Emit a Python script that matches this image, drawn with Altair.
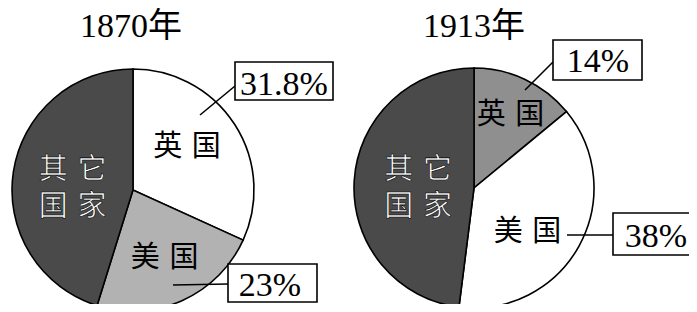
import altair as alt
import pandas as pd

# ---- data ----
years = ["1870年", "1913年"]
countries = ["英国", "美国", "其它国家"]
labels = ["英\u2004国", "美\u2004国", "其\u2004它\n国\u2004家"]
shares_1870 = [31.8, 23, 45.2]
shares_1913 = [14, 38, 48]

rows = []
for year, shares in zip(years, [shares_1870, shares_1913]):
    for i, (c, lab, v) in enumerate(zip(countries, labels, shares)):
        rows.append({"year": year, "country": c, "label": lab, "value": v,
                     "idx": i, "key": f"{year}-{c}"})
df = pd.DataFrame(rows)
title_df = pd.DataFrame({"year": years})

# ---- styles / layout (not data) ----
key_domain = [f"{y}-{c}" for y in years for c in countries]
key_range = ["#ffffff", "#b2b2b2", "#4a4a4a", "#8f8f8f", "#ffffff", "#4a4a4a"]
centers = {"1870年": (125, 182, 121), "1913年": (466, 180, 120)}
serif = "Liberation Serif, Times New Roman, Noto Sans CJK SC, serif"
cjk = "Liberation Sans, Noto Sans CJK SC"
line_gap = 37

theta_scale = alt.Scale(domain=[0, 100], range=[0, 6.283185307])

base = alt.Chart(df).transform_window(
    cum="sum(value)", sort=[{"field": "idx"}], groupby=["year"],
    frame=[None, 0]
).transform_calculate(
    start="datum.cum - datum.value",
    mid="datum.cum - datum.value / 2",
    pct="datum.value + '%'",
    line1="split(datum.label, '\\n')[0]",
    line2="length(split(datum.label, '\\n')) > 1 ? split(datum.label, '\\n')[1] : ''",
)

layers = []

# pies
for year in years:
    cx, cy, r = centers[year]
    layers.append(
        base.transform_filter(alt.datum.year == year).mark_arc(
            radius=r, stroke="#000000", strokeWidth=1.6
        ).encode(
            x=alt.value(cx), y=alt.value(cy),
            theta=alt.Theta("start:Q", scale=theta_scale, stack=False),
            theta2="cum:Q",
            color=alt.Color("key:N", scale=alt.Scale(domain=key_domain, range=key_range), legend=None),
            order=alt.Order("idx:Q"),
        )
    )

# slice labels: (radius, dx, dy, fill, stroke)
label_style = {
    "1870年-英国": (69, -4, -6, "#000000", None),
    "1870年-美国": (75, 1, 0, "#000000", None),
    "1870年-其它国家": (61, 0, -11, "#ffffff", "#000000"),
    "1913年-英国": (81, 2, 0, "#000000", None),
    "1913年-美国": (69, -7, 11, "#000000", None),
    "1913年-其它国家": (56, 0, -14, "#ffffff", "#000000"),
}
for key, (rad, dx, dy, fill, stroke) in label_style.items():
    year = key.split("-")[0]
    cx, cy, _ = centers[year]
    for li, field in enumerate(["line1", "line2"]):
        mk = dict(radius=rad, dx=dx, dy=dy + li * line_gap, font=cjk, fontSize=29,
                  color=fill, align="center", baseline="middle")
        if stroke:
            mk.update(stroke=stroke, strokeWidth=0.6)
        layers.append(
            base.transform_filter(alt.datum.key == key)
            .transform_filter(f"datum.{field} != ''")
            .mark_text(**mk).encode(
                x=alt.value(cx), y=alt.value(cy),
                theta=alt.Theta("mid:Q", scale=theta_scale, stack=False),
                text=f"{field}:N",
            )
        )

# callout boxes: key -> (box x, x2, y, y2, text x, text baseline y, leader x, y, x2, y2)
callouts = {
    "1870年-英国": (227, 325, 54, 92, 276, 87, 192, 107, 227, 78),
    "1870年-美国": (220, 309, 256, 294, 262, 288, 165, 277, 220, 276),
    "1913年-英国": (545, 634, 32, 72, 590, 64, 517, 82, 545, 54),
    "1913年-美国": (605, 694, 205, 247, 648, 239, 559, 227, 605, 227),
}
for key, (bx, bx2, by, by2, tx, ty, lx, ly, lx2, ly2) in callouts.items():
    sub = base.transform_filter(alt.datum.key == key)
    layers.append(
        sub.mark_rule(color="#000000", strokeWidth=1.6).encode(
            x=alt.value(lx), y=alt.value(ly), x2=alt.value(lx2), y2=alt.value(ly2)
        )
    )
    layers.append(
        sub.mark_rect(fill="#ffffff", stroke="#000000", strokeWidth=1.6).encode(
            x=alt.value(bx), x2=alt.value(bx2), y=alt.value(by), y2=alt.value(by2)
        )
    )
    layers.append(
        sub.mark_text(font=serif, fontSize=34, color="#000000",
                      align="center", baseline="alphabetic").encode(
            x=alt.value(tx), y=alt.value(ty), text="pct:N"
        )
    )

# titles
title_x = {"1870年": 123, "1913年": 466}
for year in years:
    layers.append(
        alt.Chart(title_df).transform_filter(alt.datum.year == year).mark_text(
            font=serif, fontSize=34, color="#000000", align="center", baseline="alphabetic"
        ).encode(x=alt.value(title_x[year]), y=alt.value(29), text="year:N")
    )

chart = alt.layer(*layers).properties(
    width=681, height=296, padding=0, autosize=alt.AutoSizeParams(type="none"),
    background="#ffffff"
).configure_view(strokeWidth=0)

chart.save("out.html", embed_options={"renderer": "svg", "actions": False})
